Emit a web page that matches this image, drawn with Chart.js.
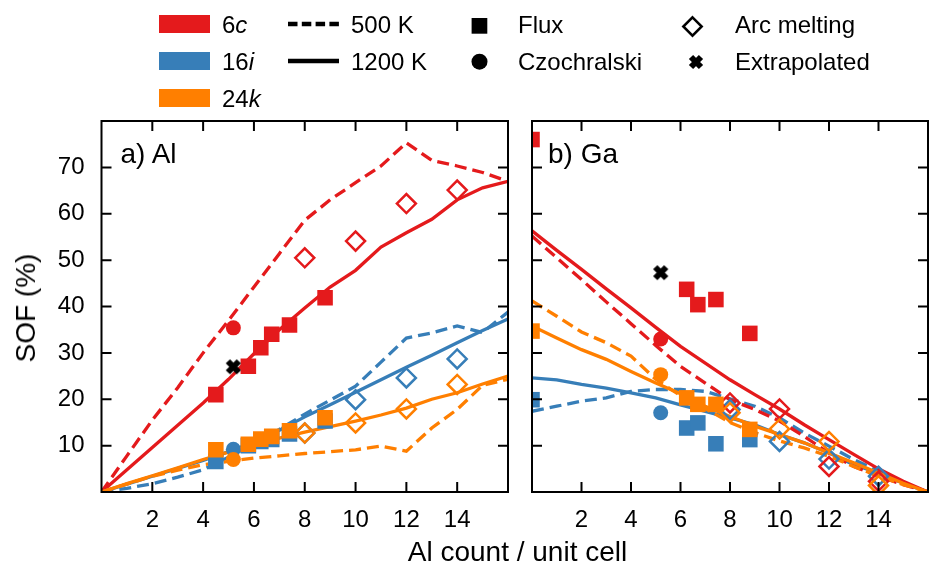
<!DOCTYPE html>
<html>
<head>
<meta charset="utf-8">
<title>SOF vs Al count</title>
<script src="https://cdn.jsdelivr.net/npm/chart.js@4.4.1/dist/chart.umd.min.js"></script>
<style>
  html, body { margin: 0; padding: 0; background: #fff; }
  body { position: relative; width: 933px; height: 565px; overflow: hidden;
         font-family: "Liberation Sans", Arial, Helvetica, sans-serif; color: #000; }
  canvas { position: absolute; top: 0; }
  #chartA { left: 0; }
  #chartB { left: 520px; }
  .txt { position: absolute; white-space: nowrap; font-size: 24px; line-height: 24px; }
  .big { font-size: 28px; line-height: 28px; }
  .sw { position: absolute; left: 159px; width: 51px; height: 18px; }
  svg.mk { position: absolute; overflow: visible; }
</style>
</head>
<body>
<canvas id="chartA" width="520" height="565"></canvas>
<canvas id="chartB" width="420" height="565"></canvas>

<!-- legend: sites -->
<div class="sw" style="top:15px;background:#e41a1c"></div>
<div class="sw" style="top:52px;background:#377eb8"></div>
<div class="sw" style="top:88.5px;background:#ff7f00"></div>
<div class="txt" style="left:222px;top:13px">6<i>c</i></div>
<div class="txt" style="left:222px;top:50px">16<i>i</i></div>
<div class="txt" style="left:222px;top:86.5px">24<i>k</i></div>

<!-- legend: temperatures -->
<svg class="mk" style="left:288px;top:14px" width="51" height="20"><line x1="0" y1="10" x2="51" y2="10" stroke="#000" stroke-width="4.4" stroke-dasharray="9.5 4.3"/></svg>
<svg class="mk" style="left:288px;top:51px" width="51" height="20"><line x1="0" y1="10" x2="51" y2="10" stroke="#000" stroke-width="4.6"/></svg>
<div class="txt" style="left:351px;top:13px">500 K</div>
<div class="txt" style="left:351px;top:50px">1200 K</div>

<!-- legend: growth methods -->
<svg class="mk" style="left:471px;top:18px" width="17" height="17"><rect x="0.6" y="0" width="15.7" height="15.7" fill="#000"/></svg>
<svg class="mk" style="left:471px;top:53px" width="17" height="17"><circle cx="8.5" cy="8.7" r="8" fill="#000"/></svg>
<div class="txt" style="left:518px;top:13px">Flux</div>
<div class="txt" style="left:518px;top:50px">Czochralski</div>
<svg class="mk" style="left:682px;top:16px" width="21" height="21"><polygon points="10.5,1.3 19.7,10.5 10.5,19.7 1.3,10.5" fill="none" stroke="#000" stroke-width="2.5"/></svg>
<svg class="mk" style="left:688px;top:54px" width="16" height="16"><path d="M3 3 L13 13 M13 3 L3 13" stroke="#000" stroke-width="6"/></svg>
<div class="txt" style="left:735px;top:13px">Arc melting</div>
<div class="txt" style="left:735px;top:50px">Extrapolated</div>

<!-- panel labels and axis titles -->
<div class="txt big" style="left:120.5px;top:139.5px">a) Al</div>
<div class="txt big" style="left:548px;top:139.5px">b) Ga</div>
<div class="txt big" style="left:517.5px;top:538px;transform:translateX(-50%)">Al count / unit cell</div>
<div class="txt big" style="left:26px;top:308px;transform:translate(-50%,-50%) rotate(-90deg)">SOF (%)</div>

<script>
// ---- axes ----
const xTicks = [2, 4, 6, 8, 10, 12, 14];
const yTicks = [10, 20, 30, 40, 50, 60, 70];

// x positions of the model curves
const modelX = [0, 1, 2, 3, 4, 5, 6, 7, 8, 9, 10, 11, 12, 13, 14, 15, 16];

// ---- a) Al : model curves ----
const al6c500   = [0, 7.8, 15.5, 22.5, 30, 37, 44.2, 51.4, 58.6, 63, 66.7, 70.3, 75.3, 71.5, 70.3, 68.9, 67];
const al6c1200  = [0, 4.8, 9.6, 14.4, 19.2, 24.3, 29.8, 35, 39.7, 44.2, 47.8, 52.8, 55.9, 58.8, 63, 65.6, 67];
const al16i500  = [0, 0.8, 1.8, 3.2, 4.8, 7.5, 10.5, 13.5, 16.8, 19.8, 22.8, 28, 33.2, 34.3, 35.8, 34.4, 38.8];
const al16i1200 = [0, 1.7, 3.4, 5.1, 6.8, 8.7, 10.7, 13.3, 16.2, 18.8, 21.5, 24.2, 26.9, 29.5, 32.2, 34.8, 37.3];
const al24k500  = [0, 1.7, 3.4, 4.7, 5.9, 6.6, 7.3, 7.8, 8.3, 8.7, 9.1, 9.9, 8.8, 13.8, 17.8, 23, 24.3];
const al24k1200 = [0, 1.8, 3.5, 5.2, 7, 8.6, 10.2, 11.6, 12.9, 14.1, 15.3, 16.6, 18.1, 20, 21.4, 23.3, 25];

// ---- a) Al : experiments ----
const alFluxX    = [4.5, 5.78, 6.27, 6.7, 7.4, 8.8];
const alFlux6c   = [21, 27.1, 31.1, 34, 36, 41.9];
const alFlux16i  = [6.6, 10.0, 10.9, 11.3, 12.5, 15.3];
const alFlux24k  = [9.1, 10.3, 11.4, 12.0, 13.2, 16.0];
const alCzX      = [5.19];
const alCz6c     = [35.4];
const alCz16i    = [9.2];
const alCz24k    = [7.0];
const alArcX     = [8, 10, 12, 14];
const alArc6c    = [50.5, 54.1, 62.2, 65.1];
const alArc16i   = [12.7, 19.9, 24.6, 28.7];
const alArc24k   = [12.7, 14.9, 17.9, 23.2];
const alExtraX   = [5.19];
const alExtraY   = [27];

// ---- b) Ga : model curves ----
const ga6c500   = [55.2, 50.5, 45.8, 41, 36.3, 31.6, 27.1, 23.5, 19.9, 17.8, 15.3, 12, 8.4, 5.5, 3.4, 1.6, 0];
const ga6c1200  = [56.3, 52.1, 48, 43.8, 39.7, 35.5, 31.4, 27.8, 24.2, 21, 17.9, 14.5, 11.3, 8.1, 5, 2.3, 0];
const ga16i500  = [17.4, 18.5, 19.6, 20.3, 21.7, 22.1, 22.1, 21.7, 20.1, 18.5, 16, 12.7, 9.9, 7, 4.5, 1.9, 0];
const ga16i1200 = [24.6, 24.2, 23.2, 22.4, 21.4, 20.3, 18.8, 17.4, 16, 14.5, 12.4, 10.6, 8.4, 5.9, 4.1, 1.9, 0];
const ga24k500  = [41.2, 37.9, 34.5, 32.2, 29.3, 24.3, 20.8, 18, 15, 12.8, 11, 9.5, 7.7, 5.5, 3.4, 1.6, 0];
const ga24k1200 = [35.8, 33.2, 30.7, 28.6, 26, 23.5, 21.2, 18.5, 16.3, 14.2, 12.4, 10.6, 8.4, 6.3, 4.1, 1.9, 0];

// ---- b) Ga : experiments ----
const gaFluxX    = [0, 6.25, 6.7, 7.43, 8.8];
const gaFlux6c   = [76, 43.7, 40.4, 41.5, 34.2];
const gaFlux16i  = [19.9, 13.8, 14.9, 10.4, 11.3];
const gaFlux24k  = [34.7, 20.3, 18.9, 18.9, 13.5];
const gaCzX      = [5.2];
const gaCz6c     = [33];
const gaCz16i    = [17.1];
const gaCz24k    = [25.3];
const gaArcX     = [8, 10, 12, 14];
const gaArc6c    = [19.2, 17.9, 5.5, 2.3];
const gaArc16i   = [17.8, 10.9, 7.1, 3.4];
const gaArc24k   = [17.1, 13.6, 10.9, 1.4];
const gaExtraX   = [5.2];
const gaExtraY   = [47.3];

const RED = '#e41a1c', BLUE = '#377eb8', ORANGE = '#ff7f00';

function pts(xs, ys) {
  return xs.map((x, i) => ({ x: x, y: ys[i] }));
}

// bold "x" marker for extrapolated values
function makeCross(size, lw, color) {
  const c = document.createElement('canvas');
  c.width = size; c.height = size;
  const g = c.getContext('2d');
  g.strokeStyle = color; g.lineWidth = lw;
  const m = lw * 0.5;
  g.beginPath();
  g.moveTo(m, m); g.lineTo(size - m, size - m);
  g.moveTo(size - m, m); g.lineTo(m, size - m);
  g.stroke();
  return c;
}
const crossMark = makeCross(17, 6, '#000');

function curve(ys, color, dashed) {
  return {
    data: pts(modelX, ys), showLine: true, pointRadius: 0, borderColor: color,
    borderWidth: 3.3, borderDash: dashed ? [12, 6] : [], order: 1, clip: 0
  };
}
function marks(xs, ys, style, radius, color, filled) {
  return {
    data: pts(xs, ys), showLine: false, pointStyle: style, pointRadius: radius,
    pointBackgroundColor: filled ? color : 'rgba(0,0,0,0)', pointBorderColor: color,
    pointBorderWidth: filled ? 0 : 2.5, order: 0, clip: 0
  };
}

function panelData(p) {
  return [
    // experiments (earlier entries end up on top)
    marks(p.extraX, p.extraY, crossMark, 8, '#000', true),
    marks(p.fluxX, p.flux24k, 'rect', 11, ORANGE, true),
    marks(p.czX, p.cz24k, 'circle', 7.5, ORANGE, true),
    marks(p.arcX, p.arc24k, 'rectRot', 9.5, ORANGE, false),
    marks(p.fluxX, p.flux6c, 'rect', 11, RED, true),
    marks(p.czX, p.cz6c, 'circle', 7.5, RED, true),
    marks(p.arcX, p.arc6c, 'rectRot', 9.5, RED, false),
    marks(p.fluxX, p.flux16i, 'rect', 11, BLUE, true),
    marks(p.czX, p.cz16i, 'circle', 7.5, BLUE, true),
    marks(p.arcX, p.arc16i, 'rectRot', 9.5, BLUE, false),
    // model curves
    curve(p.k24[1], ORANGE, false),
    curve(p.k24[0], ORANGE, true),
    curve(p.c6[1], RED, false),
    curve(p.c6[0], RED, true),
    curve(p.i16[1], BLUE, false),
    curve(p.i16[0], BLUE, true)
  ];
}

// frame with inward ticks on all four sides
const frameTicks = {
  id: 'frameTicks',
  afterDatasetsDraw(chart) {
    const ctx = chart.ctx, a = chart.chartArea;
    const xs = chart.scales.x, ys = chart.scales.y;
    ctx.save();
    ctx.strokeStyle = '#000';
    ctx.lineWidth = 2;
    ctx.strokeRect(a.left, a.top, a.right - a.left, a.bottom - a.top);
    ctx.beginPath();
    xTicks.forEach(v => {
      const px = xs.getPixelForValue(v);
      ctx.moveTo(px, a.bottom); ctx.lineTo(px, a.bottom - 10);
      ctx.moveTo(px, a.top); ctx.lineTo(px, a.top + 10);
    });
    yTicks.forEach(v => {
      const py = ys.getPixelForValue(v);
      ctx.moveTo(a.left, py); ctx.lineTo(a.left + 10, py);
      ctx.moveTo(a.right, py); ctx.lineTo(a.right - 10, py);
    });
    ctx.stroke();
    ctx.restore();
  }
};

const tickFont = { family: '"Liberation Sans", Arial, sans-serif', size: 24 };

function makeChart(id, p, showY, padding) {
  return new Chart(document.getElementById(id), {
    type: 'scatter',
    data: { datasets: panelData(p) },
    plugins: [frameTicks],
    options: {
      responsive: false,
      animation: false,
      events: [],
      layout: { padding: padding },
      plugins: { legend: { display: false }, tooltip: { enabled: false } },
      scales: {
        x: {
          type: 'linear', min: 0, max: 16,
          grid: { display: false, drawTicks: false },
          border: { display: false },
          ticks: {
            stepSize: 2, autoSkip: false, maxRotation: 0, padding: 14,
            color: '#000', font: tickFont,
            callback: v => xTicks.includes(v) ? String(v) : ''
          },
          afterFit: s => { s.height = 73; s.paddingLeft = 0; s.paddingRight = 0; }
        },
        y: {
          display: showY, min: 0, max: 80,
          grid: { display: false, drawTicks: false },
          border: { display: false },
          ticks: {
            stepSize: 10, autoSkip: false, padding: 17,
            color: '#000', font: tickFont,
            callback: v => yTicks.includes(v) ? String(v) : ''
          },
          afterFit: s => { s.width = showY ? 101.5 : 0; s.paddingTop = 0; s.paddingBottom = 0; }
        }
      }
    }
  });
}

const alPanel = {
  c6: [al6c500, al6c1200], i16: [al16i500, al16i1200], k24: [al24k500, al24k1200],
  fluxX: alFluxX, flux6c: alFlux6c, flux16i: alFlux16i, flux24k: alFlux24k,
  czX: alCzX, cz6c: alCz6c, cz16i: alCz16i, cz24k: alCz24k,
  arcX: alArcX, arc6c: alArc6c, arc16i: alArc16i, arc24k: alArc24k,
  extraX: alExtraX, extraY: alExtraY
};
const gaPanel = {
  c6: [ga6c500, ga6c1200], i16: [ga16i500, ga16i1200], k24: [ga24k500, ga24k1200],
  fluxX: gaFluxX, flux6c: gaFlux6c, flux16i: gaFlux16i, flux24k: gaFlux24k,
  czX: gaCzX, cz6c: gaCz6c, cz16i: gaCz16i, cz24k: gaCz24k,
  arcX: gaArcX, arc6c: gaArc6c, arc16i: gaArc16i, arc24k: gaArc24k,
  extraX: gaExtraX, extraY: gaExtraY
};

makeChart('chartA', alPanel, true, { left: 0, right: 12, top: 121, bottom: 0 });
makeChart('chartB', gaPanel, false, { left: 8.5, right: 5.3, top: 121, bottom: 0 });
</script>
</body>
</html>
